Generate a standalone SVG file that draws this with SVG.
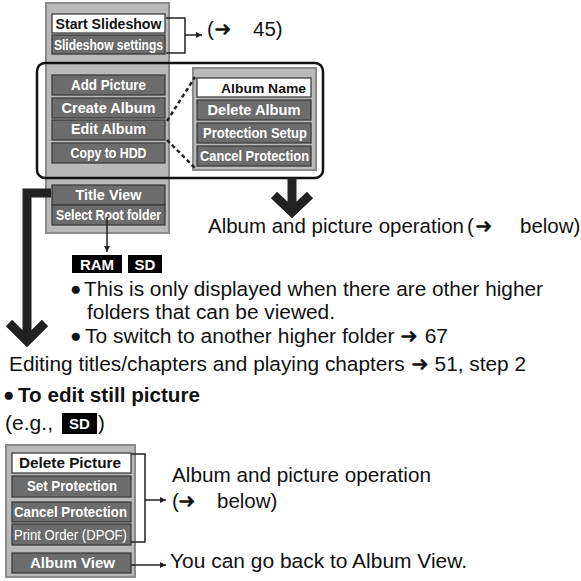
<svg xmlns="http://www.w3.org/2000/svg" width="581" height="581" viewBox="0 0 581 581">
<defs>
<style>
.panel{fill:#b9b9b9;stroke:#8a8a8a;stroke-width:2}
.it{fill:#6c6c6c;stroke:#3c3c3c;stroke-width:1.3}
.sel{fill:#ffffff;stroke:#3c3c3c;stroke-width:1.3}
.it-t{font-family:"Liberation Sans",Arial,sans-serif;font-weight:bold;font-size:14px;fill:#ffffff;text-anchor:middle}
.sel-t{font-family:"Liberation Sans",Arial,sans-serif;font-weight:bold;font-size:14px;fill:#111111;text-anchor:middle}
.body{font-family:"Liberation Sans",Arial,sans-serif;font-size:20.5px;fill:#111111}
.bold{font-weight:bold}
.bul{font-family:"Liberation Sans",Arial,sans-serif;font-size:19px;fill:#111111}
.badge{fill:#000000}
.badge-t{font-family:"Liberation Sans",Arial,sans-serif;font-weight:bold;font-size:15px;fill:#ffffff;text-anchor:middle}
.thin{fill:none;stroke:#222222;stroke-width:1.5}
.thick{fill:none;stroke:#222222;stroke-width:9;stroke-linejoin:miter}
.dot{fill:none;stroke:#222222;stroke-width:2.5;stroke-dasharray:4 3}
</style>
<marker id="ah" viewBox="0 0 10 10" refX="10" refY="5" markerWidth="6" markerHeight="6" orient="auto" markerUnits="userSpaceOnUse">
<path d="M0,0 L10,5 L0,10 z" fill="#222222"/>
</marker>
</defs>
<rect width="581" height="581" fill="#ffffff"/>

<g id="main-menu">
<rect class="panel" x="46" y="3" width="123" height="230"/>
<g id="start-slideshow"><rect class="sel" x="52" y="14" width="113" height="19"/><text class="sel-t" x="108.5" y="29" textLength="106" lengthAdjust="spacingAndGlyphs">Start Slideshow</text></g>
<g id="slideshow-settings"><rect class="it" x="52" y="35" width="113" height="19"/><text class="it-t" x="108.5" y="50" textLength="109" lengthAdjust="spacingAndGlyphs">Slideshow settings</text></g>
<g id="add-picture"><rect class="it" x="52" y="75" width="113" height="20"/><text class="it-t" x="108.5" y="90" textLength="75" lengthAdjust="spacingAndGlyphs">Add Picture</text></g>
<g id="create-album"><rect class="it" x="52" y="98" width="113" height="20"/><text class="it-t" x="108.5" y="113" textLength="94" lengthAdjust="spacingAndGlyphs">Create Album</text></g>
<g id="edit-album"><rect class="it" x="52" y="120" width="113" height="20"/><text class="it-t" x="108.5" y="134" textLength="75" lengthAdjust="spacingAndGlyphs">Edit Album</text></g>
<g id="copy-to-hdd"><rect class="it" x="52" y="143" width="113" height="20"/><text class="it-t" x="108.5" y="158" textLength="76" lengthAdjust="spacingAndGlyphs">Copy to HDD</text></g>
<g id="title-view"><rect class="it" x="52" y="185" width="113" height="20"/><text class="it-t" x="108.5" y="200" textLength="66" lengthAdjust="spacingAndGlyphs">Title View</text></g>
<g id="select-root-folder"><rect class="it" x="52" y="205" width="113" height="20"/><text class="it-t" x="108.5" y="220" textLength="105" lengthAdjust="spacingAndGlyphs">Select Root folder</text></g>
</g>

<g id="album-menu">
<rect class="panel" x="193" y="68" width="123" height="102"/>
<g id="album-name"><rect class="sel" x="197" y="78" width="114" height="19"/><text class="sel-t" x="263.5" y="92.5" textLength="85" lengthAdjust="spacingAndGlyphs" style="font-size:13px">Album Name</text></g>
<g id="delete-album"><rect class="it" x="197" y="100" width="114" height="20"/><text class="it-t" x="254" y="115" textLength="93" lengthAdjust="spacingAndGlyphs">Delete Album</text></g>
<g id="protection-setup"><rect class="it" x="197" y="123" width="114" height="20"/><text class="it-t" x="255" y="138" textLength="104" lengthAdjust="spacingAndGlyphs">Protection Setup</text></g>
<g id="cancel-protection-album"><rect class="it" x="197" y="146" width="114" height="20"/><text class="it-t" x="254.5" y="161" textLength="109" lengthAdjust="spacingAndGlyphs">Cancel Protection</text></g>
</g>

<g id="picture-menu">
<rect class="panel" x="6" y="445" width="129" height="132"/>
<g id="delete-picture"><rect class="sel" x="12" y="453" width="119" height="20"/><text class="sel-t" x="70" y="468" textLength="102" lengthAdjust="spacingAndGlyphs">Delete Picture</text></g>
<g id="set-protection"><rect class="it" x="12" y="476" width="119" height="21"/><text class="it-t" x="72" y="491" textLength="90" lengthAdjust="spacingAndGlyphs">Set Protection</text></g>
<g id="cancel-protection-picture"><rect class="it" x="12" y="502" width="119" height="20"/><text class="it-t" x="70.5" y="517" textLength="113" lengthAdjust="spacingAndGlyphs">Cancel Protection</text></g>
<g id="print-order"><rect class="it" x="12" y="524" width="119" height="21"/><text class="it-t" x="70.5" y="540" textLength="113" lengthAdjust="spacingAndGlyphs" style="font-weight:normal">Print Order (DPOF)</text></g>
<g id="album-view"><rect class="it" x="12" y="553" width="119" height="20"/><text class="it-t" x="72.5" y="568" textLength="85" lengthAdjust="spacingAndGlyphs">Album View</text></g>
</g>

<g id="connectors">
<rect x="37" y="63" width="286" height="115" rx="8" ry="8" fill="none" stroke="#111111" stroke-width="2.5"/>
<path class="thin" d="M166,18 H185 V53 H166"/>
<line class="thin" x1="185" y1="35" x2="202" y2="35" marker-end="url(#ah)"/>
<line class="dot" x1="167" y1="121" x2="195" y2="77"/>
<line class="dot" x1="167" y1="140" x2="195" y2="168"/>
<path class="thick" d="M292,178 V208"/>
<path class="thick" d="M274,195 L292,212 L310,195"/>
<path class="thick" d="M51,193 H27 V340"/>
<path class="thick" d="M9,323 L27,341 L45,323"/>
<line class="thin" x1="107" y1="217" x2="107" y2="252" marker-end="url(#ah)"/>
<path class="thin" d="M131,454 H145 V542 H131"/>
<line class="thin" x1="145" y1="500" x2="166" y2="500" marker-end="url(#ah)"/>
<line class="thin" x1="131" y1="565" x2="166" y2="565" marker-end="url(#ah)"/>
</g>

<g id="labels">
<text class="body" y="36"><tspan x="207">(</tspan><tspan x="214">➜</tspan><tspan x="253">45)</tspan></text>
<text class="body" y="233"><tspan x="208" textLength="256" lengthAdjust="spacingAndGlyphs">Album and picture operation</tspan><tspan x="467">(</tspan><tspan x="475">➜</tspan><tspan x="520">below)</tspan></text>
<g id="ram-badge"><rect class="badge" x="72" y="255" width="50" height="18"/><text class="badge-t" x="97" y="269.5">RAM</text></g>
<g id="sd-badge"><rect class="badge" x="128" y="255" width="34" height="18"/><text class="badge-t" x="145" y="269.5">SD</text></g>
<text class="bul" x="70" y="294.5">●</text>
<text class="body" x="84" y="296" textLength="459" lengthAdjust="spacingAndGlyphs">This is only displayed when there are other higher</text>
<text class="body" x="87" y="319" textLength="248" lengthAdjust="spacingAndGlyphs">folders that can be viewed.</text>
<text class="bul" x="70" y="341.5">●</text>
<text class="body" x="85" y="343" textLength="363" lengthAdjust="spacingAndGlyphs">To switch to another higher folder ➜ 67</text>
<text class="body" x="9" y="371" textLength="517" lengthAdjust="spacingAndGlyphs">Editing titles/chapters and playing chapters ➜ 51, step 2</text>
<text class="bul" x="3" y="401">●</text>
<text class="body bold" x="18" y="402" textLength="182" lengthAdjust="spacingAndGlyphs">To edit still picture</text>
<text class="body" y="430"><tspan x="5" textLength="48" lengthAdjust="spacingAndGlyphs">(e.g.,</tspan><tspan x="98">)</tspan></text>
<g id="sd-badge-2"><rect class="badge" x="62" y="413" width="35" height="21"/><text class="badge-t" x="79.5" y="429">SD</text></g>
<text class="body" x="172" y="482" textLength="259" lengthAdjust="spacingAndGlyphs">Album and picture operation</text>
<text class="body" y="508"><tspan x="172">(</tspan><tspan x="178">➜</tspan><tspan x="217">below)</tspan></text>
<text class="body" x="170" y="568" textLength="297" lengthAdjust="spacingAndGlyphs">You can go back to Album View.</text>
</g>
</svg>
